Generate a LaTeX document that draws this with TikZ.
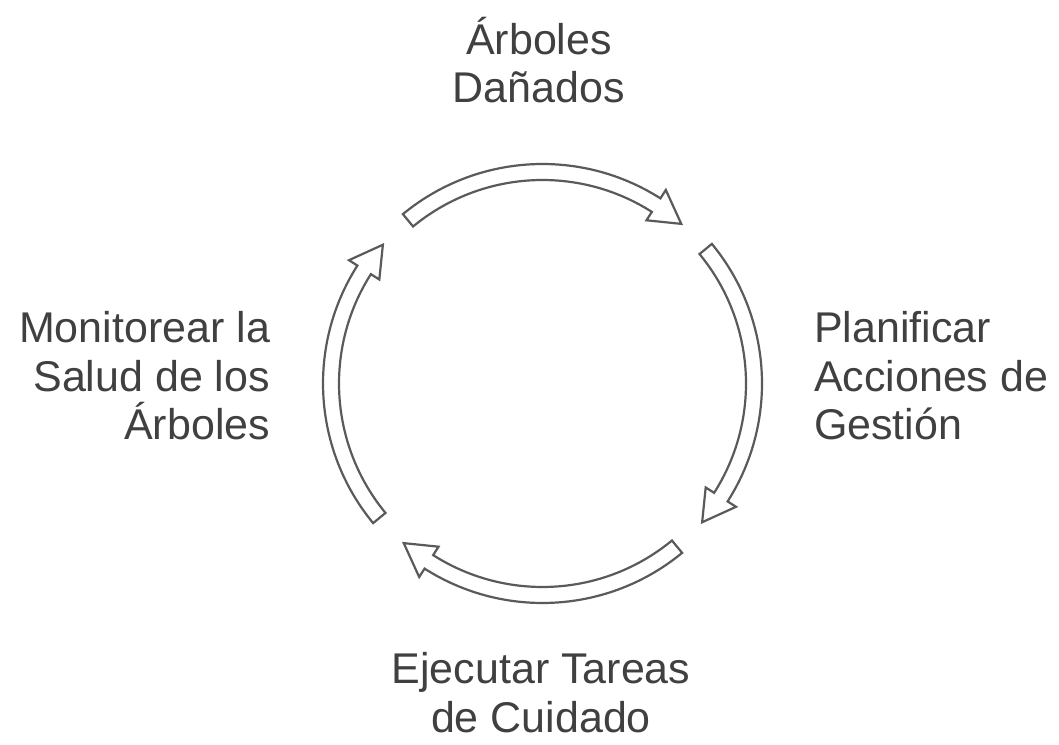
\documentclass[tikz,border=0pt]{standalone}
\usepackage{fontspec}
\setmainfont{Liberation Sans}
\definecolor{txtcol}{RGB}{64,64,64}
\definecolor{arrcol}{RGB}{90,90,90}
\begin{document}
\begin{tikzpicture}[x=0.5pt,y=0.5pt,
  cyclearrow/.style={draw=arrcol,line width=1.1pt,fill=white,line join=miter},
  lbl/.style={text=txtcol,font=\fontsize{21.5}{24.3}\selectfont,inner sep=0pt,outer sep=0pt}]
\useasboundingbox (0,0) rectangle (1059,744);
\coordinate (C) at (542.5,360.5);
\def\Ro{219.5}\def\Ri{203.5}\def\Rc{211.5}\def\Rho{229.5}\def\Rhi{193.5}
\foreach \c/\n in {90/top,0/right,-90/bottom,180/left}{
  \pgfmathsetmacro\ta{\c+39.5}
  \pgfmathsetmacro\ba{\c-32.5}
  \pgfmathsetmacro\pa{\c-41}
  \draw[cyclearrow] ([shift={(C)}]\ta:\Ro) arc[start angle=\ta,end angle=\ba,radius=\Ro]
     -- ([shift={(C)}]\ba:\Rho) -- ([shift={(C)}]\pa:\Rc) -- ([shift={(C)}]\ba:\Rhi)
     -- ([shift={(C)}]\ba:\Ri) arc[start angle=\ba,end angle=\ta,radius=\Ri] -- cycle;
}
\node[lbl,align=center,anchor=base] (dan) at (539,641) {Árboles\\Dañados};
\node[lbl,align=left,anchor=base west] (plan) at (814,304) {Planificar\\Acciones de\\Gestión};
\node[lbl,align=center,anchor=base] (ejec) at (541,12) {Ejecutar Tareas\\de Cuidado};
\node[lbl,align=right,anchor=base east] (moni) at (270,304) {Monitorear la\\Salud de los\\Árboles};
\end{tikzpicture}
\end{document}
